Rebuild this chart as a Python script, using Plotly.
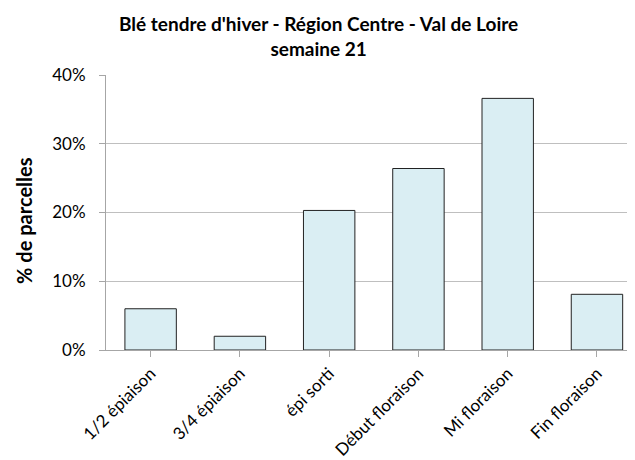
import plotly.graph_objects as go

categories = ["1/2 épiaison", "3/4 épiaison", "épi sorti", "Début floraison", "Mi floraison", "Fin floraison"]
values = [0.060, 0.020, 0.203, 0.264, 0.366, 0.081]
y_ticks = [0, 0.1, 0.2, 0.3, 0.4]
y_tick_labels = ["0%", "10%", "20%", "30%", "40%"]
title_text = "Blé tendre d'hiver - Région Centre - Val de Loire<br>semaine 21"
y_title = "% de parcelles"

font_family = "Lato, Open Sans, Liberation Sans, sans-serif"

# page has an 8px body margin; figure sized to fit the 635x460 window
W, H = 627, 452
L, T, B = 98, 67, 106
plot_h = H - T - B
plot_w = W - L

fig = go.Figure(go.Bar(
    x=list(range(len(categories))),
    y=values,
    width=0.576,
    marker=dict(color="#DAEEF3", line=dict(color="#222222", width=1)),
))

fig.update_layout(
    width=W, height=H,
    margin=dict(l=L, r=0, t=T, b=B),
    paper_bgcolor="white", plot_bgcolor="white",
    showlegend=False,
    font=dict(family=font_family, color="#000000"),
)

fig.add_annotation(
    text=title_text, xref="paper", yref="paper",
    x=(310 - L) / plot_w, y=1 + (T - 1) / plot_h, xanchor="center", yanchor="top",
    showarrow=False, align="center",
    font=dict(size=19, family=font_family, weight="bold"),
)

fig.add_annotation(
    text=y_title, xref="paper", yref="paper",
    x=(16 - L) / plot_w, y=(H - B - 215) / plot_h, xanchor="center", yanchor="middle",
    textangle=-90, showarrow=False,
    font=dict(size=20, family=font_family, weight="bold"),
)

fig.update_xaxes(
    tickmode="array",
    tickvals=list(range(len(categories))),
    ticktext=categories,
    range=[-0.5, 5.426],
    tickangle=-45,
    tickfont=dict(size=17),
    showgrid=False,
    showline=True, linecolor="#A6A6A6", linewidth=1,
    ticks="outside", tickson="boundaries", ticklen=6, tickcolor="#A6A6A6",
)

fig.update_yaxes(
    range=[0, 0.4],
    tickvals=y_ticks,
    ticktext=y_tick_labels,
    tickfont=dict(size=17),
    showgrid=True, gridcolor="#BFBFBF", gridwidth=1,
    showline=True, linecolor="#A6A6A6", linewidth=1,
    ticks="outside", ticklen=6, tickcolor="#A6A6A6",
    ticklabelstandoff=10,
    zeroline=False,
)

fig.write_html("out.html")
